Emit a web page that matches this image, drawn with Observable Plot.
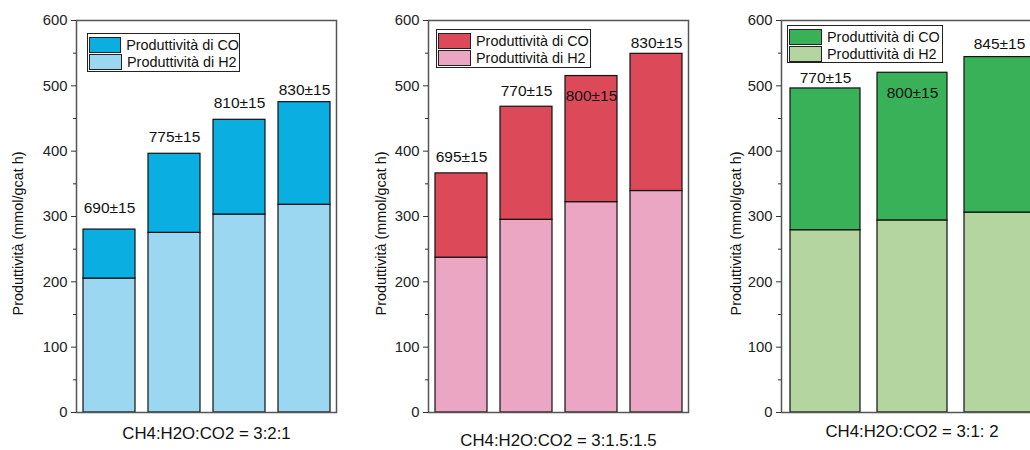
<!DOCTYPE html>
<html><head><meta charset="utf-8">
<script src="https://cdn.jsdelivr.net/npm/d3@7"></script>
<script src="https://cdn.jsdelivr.net/npm/@observablehq/plot@0.6"></script>
<style>
body{margin:0;background:#fff;overflow:hidden;font-family:"Liberation Sans",Arial,sans-serif;}
#root{position:relative;width:1030px;height:450px;overflow:hidden;background:#fff;}
.panel{position:absolute;top:0;}
.legend{position:absolute;box-sizing:border-box;border:1px solid #222;background:#fff;padding-top:2px;}
.row{display:flex;align-items:center;height:17px;margin-left:1px;font-size:14.4px;color:#111;white-space:nowrap;}
.sw{box-sizing:border-box;width:33px;height:16px;border:1px solid #222;margin-right:5px;}
</style>
</head><body><div id="root"></div>
<script>
// ---- data ----
const seriesNames = ["Produttività di H2", "Produttività di CO"];
const yLabel = "Produttività (mmol/gcat h)";
const yTicks = [0, 100, 200, 300, 400, 500, 600];
const yMinorTicks = [50, 150, 250, 350, 450, 550];

const cats1 = ["a", "b", "c", "d"];
const h2_1 = [205, 275, 303, 318];
const co_1 = [75, 121, 145, 157];
const labels1 = ["690±15", "775±15", "810±15", "830±15"];
const labelY1 = [313, 421, 473, 494];
const xTitle1 = "CH4:H2O:CO2 = 3:2:1";

const cats2 = ["a", "b", "c", "d"];
const h2_2 = [237, 295, 322, 339];
const co_2 = [129, 173, 193, 210];
const labels2 = ["695±15", "770±15", "800±15", "830±15"];
const labelY2 = [391, 492, 485, 566];
const xTitle2 = "CH4:H2O:CO2 = 3:1.5:1.5";

const cats3 = ["a", "b", "c"];
const h2_3 = [279, 294, 306];
const co_3 = [217, 226, 238];
const labels3 = ["770±15", "800±15", "845±15"];
const labelY3 = [512, 489, 564];
const xTitle3 = "CH4:H2O:CO2 = 3:1: 2";

// ---- drawing ----
const FONT = '"Liberation Sans", Arial, sans-serif';
function makePanel(o) {
  const rows = [];
  o.cats.forEach((c, i) => {
    rows.push({cat: c, serie: seriesNames[0], value: o.h2[i]});
    rows.push({cat: c, serie: seriesNames[1], value: o.co[i]});
  });
  const lab = o.cats.map((c, i) => ({cat: c, y: o.labelY[i], t: o.labels[i]}));
  const svg = Plot.plot({
    width: o.width, height: 450,
    marginLeft: 76, marginRight: o.width - 76 - o.plotW, marginTop: 20, marginBottom: 38,
    style: {fontFamily: FONT, fontSize: "14.5px", color: "#333", background: "transparent", overflow: "visible"},
    x: {domain: o.cats, paddingInner: 0.2, paddingOuter: 0.1, axis: null},
    y: {domain: [0, 600], label: null},
    color: {domain: seriesNames, range: o.colors},
    marks: [
      Plot.barY(rows, {x: "cat", y: "value", fill: "serie", stroke: "#111", strokeWidth: 1.2}),
      Plot.frame({stroke: "#555", strokeWidth: 1.5}),
      Plot.axisY({ticks: yTicks, tickSize: 5, tickPadding: 4, label: null, fontSize: 14.8, fill: "#222"}),
      Plot.axisY({ticks: yMinorTicks, tickSize: 3, tickFormat: () => "", label: null}),
      Plot.text(lab, {x: "cat", y: "y", text: "t", fontSize: 15.5, fill: "#111"}),
      Plot.text([o.xTitle], {text: d => d, frameAnchor: "bottom", textAnchor: "middle", lineAnchor: "middle", dy: o.xdy, fontSize: 16.8, fill: "#111"}),
      Plot.text([yLabel], {text: d => d, frameAnchor: "left", textAnchor: "middle", lineAnchor: "middle", rotate: -90, dx: o.ydx, dy: 17, fontSize: 14.4, fill: "#111"})
    ]
  });
  const div = document.createElement("div");
  div.className = "panel";
  div.style.left = o.left + "px";
  div.style.width = o.width + "px";
  div.appendChild(svg);
  const lg = document.createElement("div");
  lg.className = "legend";
  Object.assign(lg.style, {left: o.lg[0] + "px", top: o.lg[1] + "px", width: o.lg[2] + "px", height: o.lg[3] + "px"});
  [1, 0].forEach(k => {
    const r = document.createElement("div");
    r.className = "row";
    const s = document.createElement("div");
    s.className = "sw";
    s.style.background = o.colors[k];
    r.appendChild(s);
    r.appendChild(document.createTextNode(seriesNames[k]));
    lg.appendChild(r);
  });
  div.appendChild(lg);
  document.getElementById("root").appendChild(div);
}

makePanel({left: 0, width: 346, plotW: 260, cats: cats1, h2: h2_1, co: co_1, labels: labels1, labelY: labelY1,
  colors: ["#9bd7f1", "#0baee0"], xTitle: xTitle1, xdy: 21, ydx: -58, lg: [87, 33, 153, 39]});
makePanel({left: 352, width: 346, plotW: 260, cats: cats2, h2: h2_2, co: co_2, labels: labels2, labelY: labelY2,
  colors: ["#eaa6c3", "#dc4a5a"], xTitle: xTitle2, xdy: 28.5, ydx: -47, lg: [84, 29, 155, 39]});
makePanel({left: 705, width: 347, plotW: 261, cats: cats3, h2: h2_3, co: co_3, labels: labels3, labelY: labelY3,
  colors: ["#b4d59f", "#38b159"], xTitle: xTitle3, xdy: 19, ydx: -45, lg: [82, 25, 156, 38]});
</script>
</body></html>
